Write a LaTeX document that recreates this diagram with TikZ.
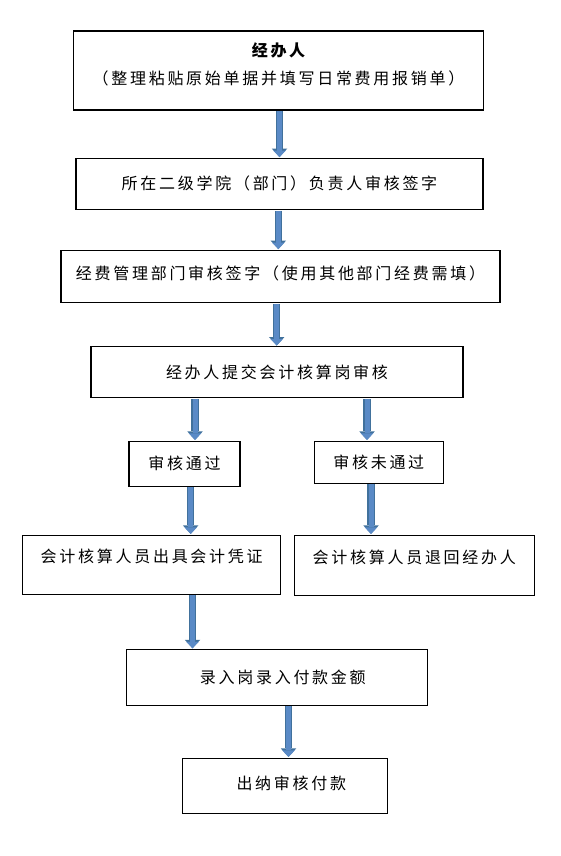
\documentclass[tikz,border=0pt]{standalone}
\usepackage{fontspec}
\setmainfont{Noto Sans CJK SC}[LetterSpace=17]
\usetikzlibrary{arrows.meta,positioning}
\definecolor{officeblue}{HTML}{5A8AC6}
\definecolor{officeedge}{HTML}{41719C}
\tikzset{
  flowbox/.style={
    rectangle, draw=black, line width=1.1pt, fill=white,
    font=\fontsize{16pt}{28pt}\selectfont, align=center,
    inner sep=3pt, outer sep=0pt
  },
  flowarrow/.style={
    draw=officeblue, line width=5pt,
    -{Triangle[width=12.5pt,length=6.5pt,line width=0pt]},
    shorten <=1.2pt, shorten >=1.2pt,
    preaction={draw=officeedge, line width=7.5pt,
      -{Triangle[width=15.5pt,length=8.5pt,line width=0pt]}}
  },
}

\begin{document}
\begin{tikzpicture}[x=1pt, y=-1pt]
\useasboundingbox (0,0) rectangle (560,856);
\node[flowbox, minimum width=410pt, minimum height=79pt, text depth=13pt] (b1) at (278.5,70.5)
  {{\bfseries 经办人}\\（整理粘贴原始单据并填写日常费用报销单）};
\node[flowbox, below=48.3pt of b1, xshift=1pt, minimum width=407pt, minimum height=51pt] (b2)
  {所在二级学院（部门）负责人审核签字};
\node[flowbox, below=41pt of b2, xshift=1pt, minimum width=439pt, minimum height=52pt, text depth=7pt] (b3)
  {经费管理部门审核签字（使用其他部门经费需填）};
\node[flowbox, below=44.4pt of b3, xshift=-3.5pt, minimum width=372pt, minimum height=51pt] (b4)
  {经办人提交会计核算岗审核};
\node[flowbox, below=43.4pt of b4, xshift=-92.5pt, minimum width=111pt, minimum height=45pt] (pass)
  {审核通过};
\node[flowbox, below=43.4pt of b4, xshift=101.8pt, minimum width=129pt, minimum height=42pt] (fail)
  {审核未通过};
\node[flowbox, below=49pt of pass, xshift=-32.8pt, minimum width=258pt, minimum height=59pt, text depth=17pt] (voucher)
  {会计核算人员出具会计凭证};
\node[flowbox, below=52pt of fail, xshift=35.5pt, minimum width=240pt, minimum height=60pt, text depth=17pt] (back)
  {会计核算人员退回经办人};
\node[flowbox, below=55.4pt of voucher, xshift=125.6pt, minimum width=301pt, minimum height=55.6pt] (entry)
  {\hspace*{11pt}录入岗录入付款金额};
\node[flowbox, below=53pt of entry, xshift=8pt, minimum width=205pt, minimum height=55pt, text depth=6.5pt] (cashier)
  {\hspace*{12pt}出纳审核付款};
% arrows
\draw[flowarrow] ([xshift=1pt]b1.south) -- ([xshift=1pt]b1.south |- b2.north);
\draw[flowarrow] ([xshift=-1.2pt]b2.south) -- ([xshift=-1.2pt]b2.south |- b3.north);
\draw[flowarrow] ([xshift=-3.8pt]b3.south) -- ([xshift=-3.8pt]b3.south |- b4.north);
\draw[flowarrow] ([xshift=-82pt]b4.south) -- ([xshift=-82pt]b4.south |- pass.north);
\draw[flowarrow] ([xshift=90pt]b4.south) -- ([xshift=90pt]b4.south |- fail.north);
\draw[flowarrow] ([xshift=6.2pt]pass.south) -- ([xshift=6.2pt]pass.south |- voucher.north);
\draw[flowarrow] ([xshift=-7.8pt]fail.south) -- ([xshift=-7.8pt]fail.south |- back.north);
\draw[flowarrow] ([xshift=40.8pt]voucher.south) -- ([xshift=40.8pt]voucher.south |- entry.north);
\draw[flowarrow] ([xshift=11.2pt]entry.south) -- ([xshift=11.2pt]entry.south |- cashier.north);
\end{tikzpicture}
\end{document}
